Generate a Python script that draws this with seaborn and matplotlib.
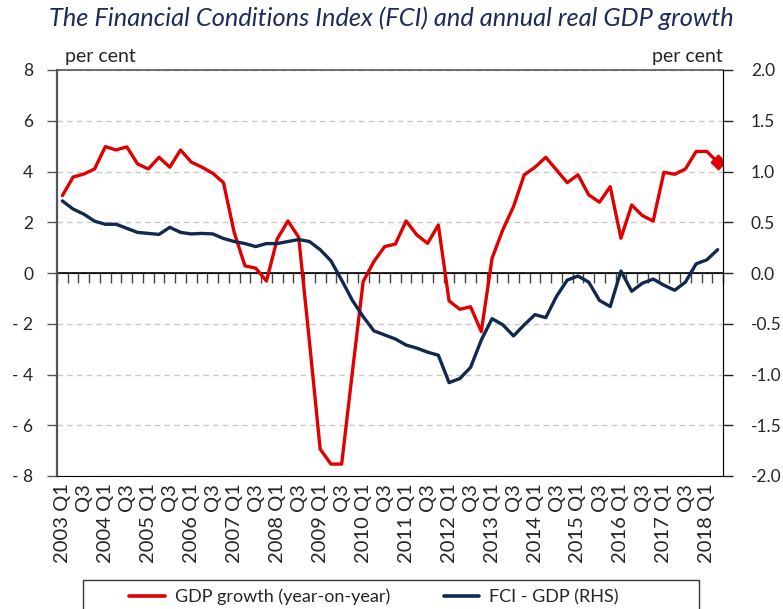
import numpy as np
import pandas as pd
import matplotlib
matplotlib.use('Agg')
import matplotlib.pyplot as plt
from matplotlib.patches import Rectangle
import seaborn as sns

# ---------------------------------------------------------------
# Data: quarterly, 2003 Q1 - 2018 Q2
# ---------------------------------------------------------------
quarters = [f'{y} Q{q}' for y in range(2003, 2019) for q in range(1, 5)][:62]

gdp_growth = [3.05, 3.78, 3.90, 4.10, 4.98, 4.85, 4.97, 4.30, 4.10, 4.56,
              4.17, 4.85, 4.37, 4.17, 3.93, 3.56, 1.59, 0.28, 0.19, -0.32,
              1.34, 2.05, 1.41, -2.70, -6.94, -7.53, -7.53, -3.90, -0.34, 0.45,
              1.04, 1.14, 2.05, 1.50, 1.17, 1.89, -1.10, -1.43, -1.33, -2.31,
              0.58, 1.70, 2.62, 3.87, 4.17, 4.56, 4.06, 3.56, 3.87, 3.08,
              2.79, 3.40, 1.37, 2.68, 2.26, 2.05, 3.97, 3.89, 4.10, 4.79,
              4.79, 4.37]

fci_gdp = [0.71, 0.63, 0.58, 0.51, 0.48, 0.48, 0.44, 0.40, 0.39, 0.38,
           0.45, 0.40, 0.385, 0.39, 0.385, 0.34, 0.31, 0.29, 0.26, 0.29,
           0.29, 0.31, 0.33, 0.31, 0.23, 0.12, -0.07, -0.27, -0.43, -0.57,
           -0.61, -0.65, -0.71, -0.74, -0.78, -0.81, -1.08, -1.04, -0.93, -0.66,
           -0.45, -0.51, -0.62, -0.51, -0.41, -0.44, -0.23, -0.07, -0.03, -0.09,
           -0.27, -0.33, 0.02, -0.18, -0.10, -0.06, -0.12, -0.17, -0.09, 0.09,
           0.13, 0.23]

left_ticks = [8, 6, 4, 2, 0, -2, -4, -6, -8]
right_ticks = [2.0, 1.5, 1.0, 0.5, 0.0, -0.5, -1.0, -1.5, -2.0]

df = pd.DataFrame({'idx': range(len(quarters)), 'quarter': quarters,
                   'gdp': gdp_growth, 'fci': fci_gdp})

RED = '#E00000'
NAVY = '#12284F'
TITLE_COL = '#1F2A5A'

# ---------------------------------------------------------------
# Plot
# ---------------------------------------------------------------
sns.set_style('white')
plt.rcParams['font.family'] = ['Lato', 'DejaVu Sans']

fig = plt.figure(figsize=(7.83, 6.09), dpi=100)
ax = fig.add_axes([57 / 783, 1 - 476 / 609, 666 / 783, 406 / 609])
ax2 = ax.twinx()

sns.lineplot(data=df, x='idx', y='gdp', ax=ax, color=RED, lw=2.4)
sns.lineplot(data=df, x='idx', y='fci', ax=ax2, color=NAVY, lw=2.4)
sns.scatterplot(data=df.tail(1), x='idx', y='gdp', ax=ax, color=RED,
                marker='D', s=60, edgecolor=RED, zorder=5)

ax.set_xlim(-0.5, len(quarters) - 0.5)
ax.set_ylim(-8, 8)
ax2.set_ylim(-2, 2)

# x labels every second quarter
xt = df['idx'][::2]
xl = [q if q.endswith('Q1') else 'Q3' for q in df['quarter'][::2]]
ax.set_xticks(xt)
ax.set_xticklabels(xl, rotation=90, fontsize=14.5)
ax.tick_params(axis='x', length=0, pad=5)

ax.set_yticks(left_ticks)
ax.set_yticklabels([f'- {abs(v)}' if v < 0 else str(v) for v in left_ticks], fontsize=12.5)
ax.tick_params(axis='y', direction='out', length=7, width=1, color='#555555', pad=10)
ax2.set_yticks(right_ticks)
ax2.set_yticklabels([f'{v:.1f}' for v in right_ticks], fontsize=12.5)
ax2.tick_params(axis='y', direction='out', length=7, width=1, color='#222222', pad=13)

ax.set_xlabel('')
ax.set_ylabel('')
ax2.set_ylabel('')

ax.grid(axis='y', ls=(0, (4, 3)), color='#C8C8C8', lw=1)
ax.grid(axis='x', visible=False)
ax.axhline(0, color='black', lw=1.2, zorder=1.5)

for s in ['top', 'left']:
    ax.spines[s].set_color('#555555')
ax.spines['left'].set_linewidth(1.6)
ax.spines['top'].set_linewidth(1.2)
ax.spines['bottom'].set_color('black')
ax2.spines['right'].set_color('black')
for s in ['top', 'left', 'bottom']:
    ax2.spines[s].set_visible(False)

# category tick marks hanging from the zero line
zero = ax.secondary_xaxis(0.5)
zero.set_alignment('bottom')
zero.set_xticks(np.arange(-0.5, len(quarters), 1))
zero.tick_params(axis='x', direction='out', length=7, width=1, color='#444444',
                 labelbottom=False, labeltop=False)

# 'per cent' labels
ax.text(0.012, 1.012, 'per cent', transform=ax.transAxes, ha='left', va='bottom', fontsize=14)
ax.text(1.0, 1.012, 'per cent', transform=ax.transAxes, ha='right', va='bottom', fontsize=14)

fig.text(0.5, 1 - 18 / 609, 'The Financial Conditions Index (FCI) and annual real GDP growth',
         ha='center', va='center', fontsize=18.3, style='italic', color=TITLE_COL)

# legend
handles = [plt.Line2D([], [], color=RED, lw=2.6), plt.Line2D([], [], color=NAVY, lw=2.6)]
fig.legend(handles, ['GDP growth (year-on-year)', 'FCI - GDP (RHS)'],
           loc='center', bbox_to_anchor=(374 / 783, 1 - 597 / 609), ncol=2,
           frameon=False, fontsize=13, handlelength=1.95, handletextpad=0.55,
           columnspacing=3.0)
fig.patches.append(Rectangle((83 / 783, -0.05), 616 / 783, 0.05 + 1 - 580 / 609,
                             transform=fig.transFigure, fill=False,
                             edgecolor='#333333', lw=1))

fig.savefig('out.png', dpi=100)
